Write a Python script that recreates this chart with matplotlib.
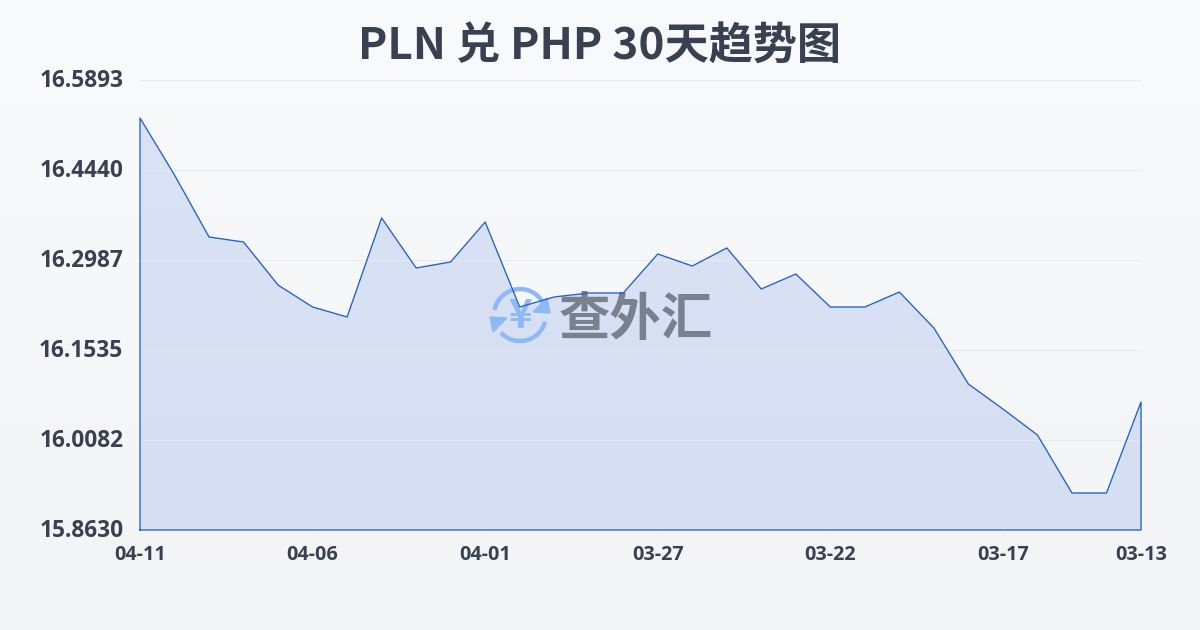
# PLN / PHP 30 day trend
import matplotlib.pyplot as plt
import numpy as np
from matplotlib.colors import LinearSegmentedColormap
from matplotlib.patches import Arc, Polygon
from matplotlib.transforms import Affine2D, ScaledTranslation

plt.rcParams["font.family"] = ["Noto Sans CJK SC", "DejaVu Sans"]

W, H = 1200, 630

dates = ["04-11", "04-10", "04-09", "04-08", "04-07", "04-06", "04-05", "04-04", "04-03", "04-02",
         "04-01", "03-31", "03-30", "03-29", "03-28", "03-27", "03-26", "03-25", "03-24", "03-23",
         "03-22", "03-21", "03-20", "03-19", "03-18", "03-17", "03-16", "03-15", "03-14", "03-13"]
rates = [16.5280, 16.4360, 16.3359, 16.3278, 16.2584, 16.2229, 16.2068, 16.3666, 16.2859, 16.2956,
         16.3601, 16.2229, 16.2391, 16.2455, 16.2455, 16.3085, 16.2891, 16.3182, 16.2520, 16.2762,
         16.2229, 16.2229, 16.2471, 16.1890, 16.0986, 16.0583, 16.0163, 15.9227, 15.9227, 16.0696]
y_ticks = [15.8630, 16.0082, 16.1535, 16.2987, 16.4440, 16.5893]
x_tick_idx = [0, 5, 10, 15, 20, 25, 29]

TEXT = "#374151"
LINE = "#2560c8"

fig = plt.figure(figsize=(W / 100, H / 100), dpi=100)

# page background, slight vertical gradient
bg = fig.add_axes([0, 0, 1, 1], zorder=0)
bg.imshow(np.linspace(0, 1, 256).reshape(-1, 1), aspect="auto", extent=[0, 1, 0, 1],
          cmap=LinearSegmentedColormap.from_list("bg", ["#f8fafc", "#f2f4f6"]))
bg.axis("off")

ax = fig.add_axes([140 / W, 1 - 530 / H, 1001 / W, 450 / H], zorder=1)
ax.patch.set_alpha(0)

x = np.arange(len(rates))
ax.fill_between(x, rates, y_ticks[0], facecolor="#3b6fd8", alpha=0.155, edgecolor="none", zorder=2)
ax.plot(np.r_[x[0], x, x[-1], x[0]], np.r_[y_ticks[0], rates, y_ticks[0], y_ticks[0]],
        color=LINE, lw=0.95, zorder=5, clip_on=False)

ax.set_xlim(0, len(rates) - 1)
ax.set_ylim(y_ticks[0], y_ticks[-1])
ax.grid(axis="y", color="#e6e9ef", lw=0.8, zorder=3)
ax.set_axisbelow(False)
for s in ax.spines.values():
    s.set_visible(False)

ax.set_yticks(y_ticks, [f"{v:.4f}" for v in y_ticks], fontsize=16.3, family="Open Sans",
              fontweight="bold", color=TEXT)
ax.set_xticks(x_tick_idx, [dates[i] for i in x_tick_idx], fontsize=14.2, family="Open Sans",
              fontweight="bold", color=TEXT)
ax.tick_params(axis="y", length=0, pad=12)
ax.tick_params(axis="x", length=5, color="#eceff3", pad=5.5)
up = ScaledTranslation(0, 1.5 / 72, fig.dpi_scale_trans)
for lab in ax.get_yticklabels():
    lab.set_transform(lab.get_transform() + up)

fig.text(0.5, 1 - 46 / H, "PLN 兑 PHP 30天趋势图", ha="center", va="center", fontsize=31.8,
         fontweight="bold", color=TEXT)

# watermark, laid out in image pixels
px = Affine2D().scale(1, -1).translate(0, H)
COIN = "#8fb8f6"
ax.text(636, 319, "查外汇", transform=px, ha="center", va="center", fontsize=37, fontweight="bold",
        color="#79818f", zorder=4, clip_on=False)
ax.text(520, 317, "¥", transform=px, ha="center", va="center", fontsize=29, fontweight="bold",
        color=COIN, zorder=4, clip_on=False)
ax.add_patch(Arc((520, 315), 52, 52, theta1=191, theta2=342, transform=px, color=COIN, lw=3.2,
                 zorder=4, clip_on=False))
ax.add_patch(Arc((520, 315), 52, 52, theta1=15, theta2=137, transform=px, color=COIN, lw=3.2,
                 zorder=4, clip_on=False))
ax.add_patch(Polygon([[550, 313], [533, 312], [547, 298]], transform=px, color=COIN, zorder=4, clip_on=False))
ax.add_patch(Polygon([[490, 317], [507, 318], [493, 332]], transform=px, color=COIN, zorder=4, clip_on=False))

fig.savefig("out.png", dpi=100)
